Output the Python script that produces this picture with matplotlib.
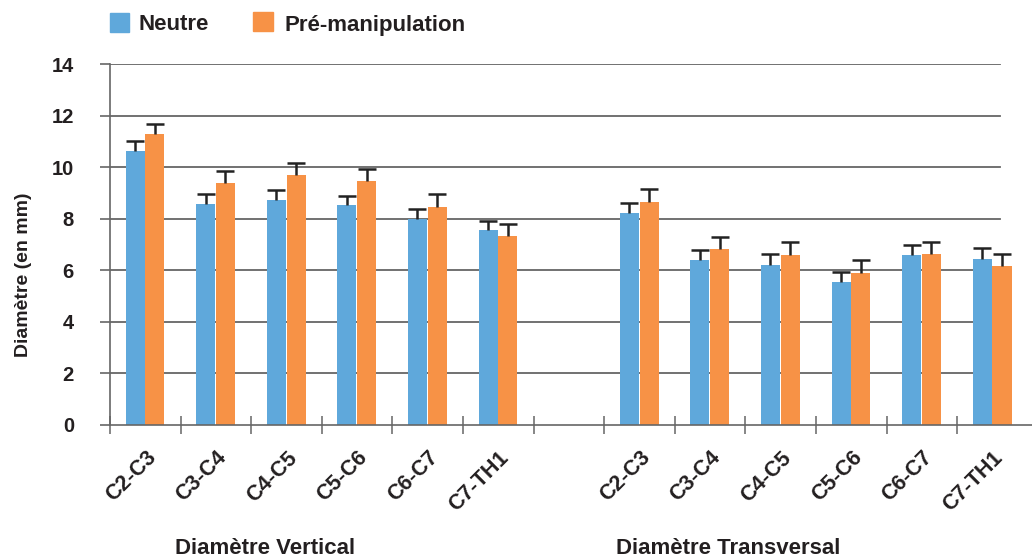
import numpy as np
import matplotlib.pyplot as plt
from matplotlib.patches import Rectangle

plt.rcParams['font.family'] = ['Liberation Sans', 'DejaVu Sans']
plt.rcParams['font.weight'] = 'bold'

segments = ['C2-C3', 'C3-C4', 'C4-C5', 'C5-C6', 'C6-C7', 'C7-TH1']
groups = ['Diamètre Vertical', 'Diamètre Transversal']

# valeurs (mm)
neutre_vert = [10.62, 8.57, 8.72, 8.53, 8.00, 7.56]
neutre_vert_err = [0.40, 0.40, 0.40, 0.37, 0.36, 0.36]
pre_vert = [11.28, 9.38, 9.69, 9.46, 8.45, 7.33]
pre_vert_err = [0.40, 0.48, 0.48, 0.47, 0.49, 0.45]

neutre_trans = [8.22, 6.40, 6.20, 5.54, 6.59, 6.44]
neutre_trans_err = [0.38, 0.38, 0.43, 0.40, 0.39, 0.42]
pre_trans = [8.64, 6.82, 6.59, 5.89, 6.63, 6.16]
pre_trans_err = [0.51, 0.49, 0.49, 0.51, 0.47, 0.49]

blue = '#5fa8db'
orange = '#f79246'
txt = '#231f20'
grey = '#666666'

neutre = np.array(neutre_vert + neutre_trans)
neutre_err = np.array(neutre_vert_err + neutre_trans_err)
pre = np.array(pre_vert + pre_trans)
pre_err = np.array(pre_vert_err + pre_trans_err)

# slot 6 is left empty between the two groups
slots = np.array(list(range(6)) + list(range(7, 13)))
centers = slots + 0.5

fig = plt.figure(figsize=(10.32, 5.59), dpi=100)
ax = fig.add_axes([110 / 1032, 134 / 559, 922 / 1032, 361 / 559])

w = 0.27
for x, vals, errs, col in [(centers - 0.145, neutre, neutre_err, blue),
                           (centers + 0.135, pre, pre_err, orange)]:
    ax.bar(x, vals, w, color=col, zorder=2)
    # only the upper half of the error bar is shown
    ax.vlines(x, vals, vals + errs, color='#222222', lw=1.8, zorder=3)
    ax.plot(x, vals + errs, ls='none', marker='_', ms=13, mew=1.8,
            color='#222222', zorder=3)

for y in range(2, 15, 2):
    ax.axhline(y, xmin=0, xmax=0.965, color=grey, lw=1.3, zorder=0)

ax.set_xlim(0, 922 / 70.6)
ax.set_ylim(0, 14)
ax.set_yticks(range(0, 15, 2))
ax.tick_params(axis='y', length=7, width=1.2, color=grey, pad=19,
               labelsize=14.5, labelcolor=txt)

ax.set_xticks(range(0, 13))
ax.set_xticklabels([])
ax.tick_params(axis='x', which='major', direction='inout', length=13,
               width=1.1, color=grey)
ax.set_xticks(centers, minor=True)
ax.set_xticklabels(segments + segments, minor=True, rotation=45,
                   ha='right', va='top', rotation_mode='anchor',
                   fontsize=15.5, color=txt, fontweight='bold')
ax.tick_params(axis='x', which='minor', length=0, pad=16)

for s in ['top', 'right']:
    ax.spines[s].set_visible(False)
for s in ['left', 'bottom']:
    ax.spines[s].set_color(grey)
    ax.spines[s].set_linewidth(1.2)

fig.text(24 / 1032, 1 - 275 / 559, 'Diamètre (en mm)', rotation=90,
         ha='center', va='center', fontsize=14, color=txt, fontweight='bold')
fig.text(265 / 1032, 1 - 548 / 559, groups[0], ha='center', va='center',
         fontsize=16, color=txt, fontweight='bold')
fig.text(728 / 1032, 1 - 548 / 559, groups[1], ha='center', va='center',
         fontsize=16, color=txt, fontweight='bold')

# légende
fig.patches.append(Rectangle((110 / 1032, 1 - 32 / 559), 19 / 1032, 19 / 559,
                             transform=fig.transFigure, color=blue))
fig.text(139 / 1032, 1 - 25 / 559, 'Neutre', ha='left', va='center',
         fontsize=16, color=txt, fontweight='bold')
fig.patches.append(Rectangle((253 / 1032, 1 - 31 / 559), 20 / 1032, 19 / 559,
                             transform=fig.transFigure, color=orange))
fig.text(284 / 1032, 1 - 25 / 559, 'Pré-manipulation', ha='left', va='center',
         fontsize=16, color=txt, fontweight='bold')

fig.savefig('out.png', dpi=100)
